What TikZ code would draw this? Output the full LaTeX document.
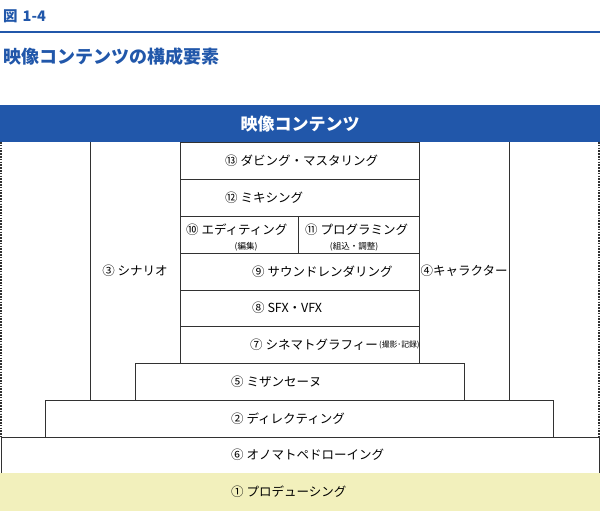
\documentclass[tikz,border=0pt]{standalone}
\usepackage{fontspec}
\setmainfont{Noto Sans CJK JP}
\usepackage{tikz}
\definecolor{zublue}{RGB}{33,87,170}
\definecolor{zuyellow}{RGB}{242,240,188}
\definecolor{zuline}{RGB}{50,50,50}

\begin{document}
\begin{tikzpicture}[x=1pt,y=-1pt,
		frame/.style={draw=zuline, line width=0.9pt},
		lbl/.style={font=\fontsize{12.5}{14}\selectfont, inner sep=0pt},
		sub/.style={font=\fontsize{8.5}{10}\selectfont, inner sep=0pt}]
		\useasboundingbox (0,0) rectangle (600,522);
		% heading
		\node[anchor=west, inner sep=0pt, text=zublue, font=\bfseries\fontsize{14.5}{16}\selectfont] (fig) at (3,16) {図\hspace{5pt}1-4};
		\draw[zublue, line width=2pt] (0,32) -- (600,32);
		\node[anchor=west, inner sep=0pt, text=zublue, font=\bfseries\fontsize{18}{20}\selectfont] (title) at (3,57) {映像コンテンツの構成要素};
		\fill[zublue] (0,105) rectangle (600,142);
		\node[text=white, font=\bfseries\fontsize{17}{19}\selectfont] (head) at (300,124) {映像コンテンツ};
		
		% layers
		\fill[zuyellow] (0,473) rectangle (600,511);
		\draw[frame] (1,473) |- (599,437) -- (599,473);
		\draw[frame] (45,437) |- (553,400) -- (553,437);
		\draw[frame] (135,400) |- (464,363) -- (464,400);
		\draw[frame] (90,142) -- (90,400) (509,142) -- (509,400);
		\draw[frame] (180,142) rectangle (419,363);
		\foreach \y in {179,216,253,290,326}
			\draw[frame] (180,\y) -- (419,\y);
		\draw[frame] (298,216) -- (298,253);
		\draw[frame, line width=1.3pt, dash pattern=on 1.6pt off 1.2pt] (1,142) -- (1,437) (599,142) -- (599,437);
		
		% labels
		\foreach \nm/\x/\y/\txt in {dub/225/161/{⑬ ダビング・マスタリング}, mix/225/198/{⑫ ミキシング},
				edit/186/230/{⑩ エディティング}, prog/305/230/{⑪ プログラミング},
				sound/252/271.5/{⑨ サウンドレンダリング}, sfx/252/308/{⑧ SFX・VFX},
				cine/250/344.5/{⑦ シネマトグラフィー}, mise/231/381.5/{⑤ ミザンセーヌ},
				dir/231/418.5/{② ディレクティング}, ono/231/455/{⑥ オノマトペドローイング},
				prod/231/492/{① プロデューシング}}
			\node[lbl, anchor=west] (\nm) at (\x,\y) {\txt};
		\node[sub, anchor=west, font=\fontsize{7.8}{9}\selectfont] (cinesub) at ([xshift=1pt]cine.east) {(撮影･記録)};
		\node[sub] (editsub) at (246,247) {(編集)};
		\node[sub] (progsub) at (354,247) {(組込・調整)};
		\node[lbl] (scen) at (135,271) {③ シナリオ};
		\node[lbl] (chara) at (464,271) {④キャラクター};
	\end{tikzpicture}
\end{document}
